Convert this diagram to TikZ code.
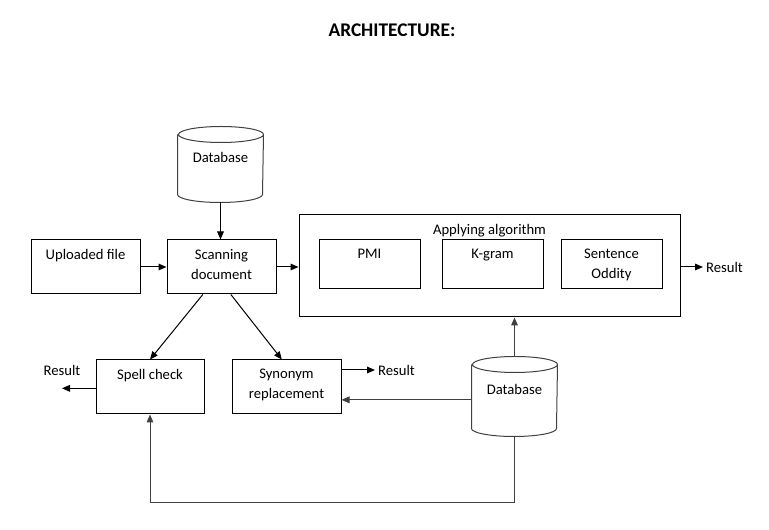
\documentclass[tikz,border=0pt]{standalone}
\usepackage{fontspec}
\setmainfont{Carlito}
\usetikzlibrary{arrows.meta}

\begin{document}
\begin{tikzpicture}[x=0.75pt,y=-0.75pt,line width=0.75pt,
  every node/.style={font=\fontsize{11}{15}\selectfont},
  box/.style={draw,rectangle,minimum width=81.75pt,minimum height=40.5pt,inner sep=0pt},
  smallbox/.style={box,minimum width=75.75pt,minimum height=36.75pt},
  txt/.style={label={[anchor=north,yshift=-7pt,inner sep=0pt,align=center]north:#1}},
  db/.style={rectangle,minimum width=63.75pt,minimum height=#1,inner sep=0pt,
    label={[yshift=5pt,inner sep=0pt]center:Database}},
  dbline/.style={draw=black!75},
  arr/.style={-{Triangle[length=6pt,width=5pt]}},
  dbarr/.style={arr,draw=black!75},
  res/.style={inner sep=2pt}]

\useasboundingbox (0,0) rectangle (769,530);

\node[font=\fontsize{14.5}{16}\selectfont\bfseries] (title) at (392,30) {ARCHITECTURE:};

\node[db=56.25pt] (db1) at (220.5,164.5) {};
\node[box,txt=Uploaded file] (upload) at (85.5,267) {};
\node[box,txt={Scanning\\document}] (scan) at (221.5,267) {};
\node[box,minimum width=285.75pt,minimum height=76.5pt,txt=Applying algorithm] (algo) at (489.5,266) {};
\node[smallbox,txt=PMI] (pmi) at (369.5,264.5) {};
\node[smallbox,txt=K-gram] (kgram) at (492.5,264.5) {};
\node[smallbox,txt={Sentence\\Oddity}] (oddity) at (611.5,264.5) {};
\node[box,minimum width=81pt,txt=Spell check] (spell) at (150,387) {};
\node[box,txt={Synonym\\replacement}] (syn) at (286.5,387) {};
\node[db=59.25pt] (db2) at (514.5,396.5) {};

% cylinders
\foreach \d in {db1,db2}
  \draw[dbline] ([yshift=-6pt]\d.north west) -- ([yshift=6pt]\d.south west)
    arc[start angle=180,end angle=360,x radius=31.875pt,y radius=6pt]
    -- ([yshift=-6pt]\d.north east)
    arc[start angle=0,end angle=360,x radius=31.875pt,y radius=6pt];

\node[res,anchor=west] (res1) at (703,267) {Result};
\node[res,anchor=west] (res2) at (375,370) {Result};
\node[res] (res3) at (62,370) {Result};

\draw[arr] (db1.south) -- (db1.south |- scan.north);
\draw[arr] (upload.east) -- (scan.west);
\draw[arr] (scan.east) -- (scan.east -| algo.west);
\draw[arr] (algo.east |- res1.west) -- (res1.west);
\draw[arr] ([xshift=-14pt]scan.south) -- (spell.north);
\draw[arr] ([xshift=7pt]scan.south) -- ([xshift=-3.5pt]syn.north);
\draw[arr] (syn.east |- res2.west) -- (res2.west);
\draw[arr] ([yshift=-1pt]spell.west) -- ([yshift=-1pt]spell.west -| res3.south);
\draw[dbarr] ([yshift=-2.5pt]db2.west) -- ([yshift=-2.5pt]db2.west -| syn.east);
\draw[dbarr] (db2.north) -- (db2.north |- algo.south);
\draw[dbarr] (db2.south) -- ++(0,66) -| (spell.south);

\end{tikzpicture}
\end{document}
